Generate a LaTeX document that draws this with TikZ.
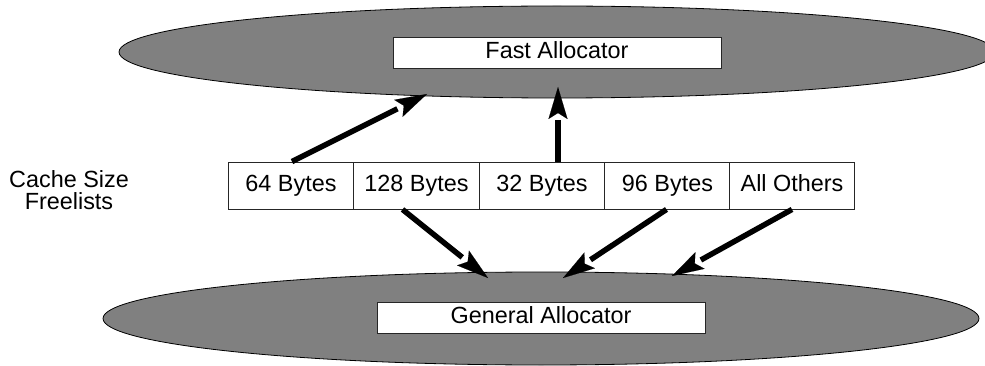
\documentclass[tikz,border=0pt]{standalone}
\usepackage{fontspec}
\setmainfont{Liberation Sans}
\usetikzlibrary{shapes.geometric,arrows.meta,calc}
\definecolor{blobgray}{RGB}{128,128,128}
\tikzset{
  txt/.style={font=\fontsize{23.4}{22.5}\selectfont},
  blob/.style={ellipse, draw=black, line width=0.8pt, fill=blobgray, inner sep=0pt, minimum width=876pt, minimum height=92pt},
  allocbox/.style={rectangle, draw=black!85, line width=0.9pt, fill=white, inner sep=0pt, minimum width=328pt, minimum height=31pt, text height=16pt, text depth=4pt, txt},
  cell/.style={rectangle, draw=black!85, line width=0.9pt, fill=white, inner sep=0pt, minimum width=125.5pt, minimum height=47pt, text height=16pt, text depth=4pt, txt},
  shaft/.style={line width=5.5pt, shorten >=33pt},
  head/.style={line width=0.1pt, -{Stealth[length=32pt,width=19pt,inset=6pt]}},
}
\begin{document}
\begin{tikzpicture}[x=1pt,y=-1pt]
\useasboundingbox (0,0) rectangle (985,366);
\clip (0,0) rectangle (985,366);
\node[blob] (fastblob) at (557,52) {};
\node[allocbox] (fast) at (557,52.5) {Fast Allocator};
\node[blob, minimum height=93pt] (genblob) at (541,318.5) {};
\node[allocbox] (gen) at (541,317.5) {General Allocator};
\node[cell] (c64) at (291,185.5) {64 Bytes};
\node[cell] (c128) at (416.5,185.5) {128 Bytes};
\node[cell] (c32) at (542,185.5) {32 Bytes};
\node[cell] (c96) at (667.5,185.5) {96 Bytes};
\node[cell] (call) at (792,185.5) {All Others};
\node[align=center, txt] (label) at (69,190) {Cache Size\\Freelists};
\coordinate (t1) at (427,94);
\coordinate (t2) at (558,87);
\coordinate (t3) at (488,278);
\coordinate (t4) at (563,278);
\coordinate (t5) at (672,276);
\coordinate (s1) at ($(c64.north)+(1,0)$);
\coordinate (s2) at (c32.north -| t2);
\coordinate (s3) at ($(c128.south)+(-14,0)$);
\coordinate (s4) at ($(c96.south)+(-1,0)$);
\coordinate (s5) at (call.south);
\foreach \i in {1,...,5}{
  \draw[shaft] (s\i) -- (t\i);
  \draw[head] ($(t\i)!2pt!(s\i)$) -- (t\i);
}
\end{tikzpicture}
\end{document}
